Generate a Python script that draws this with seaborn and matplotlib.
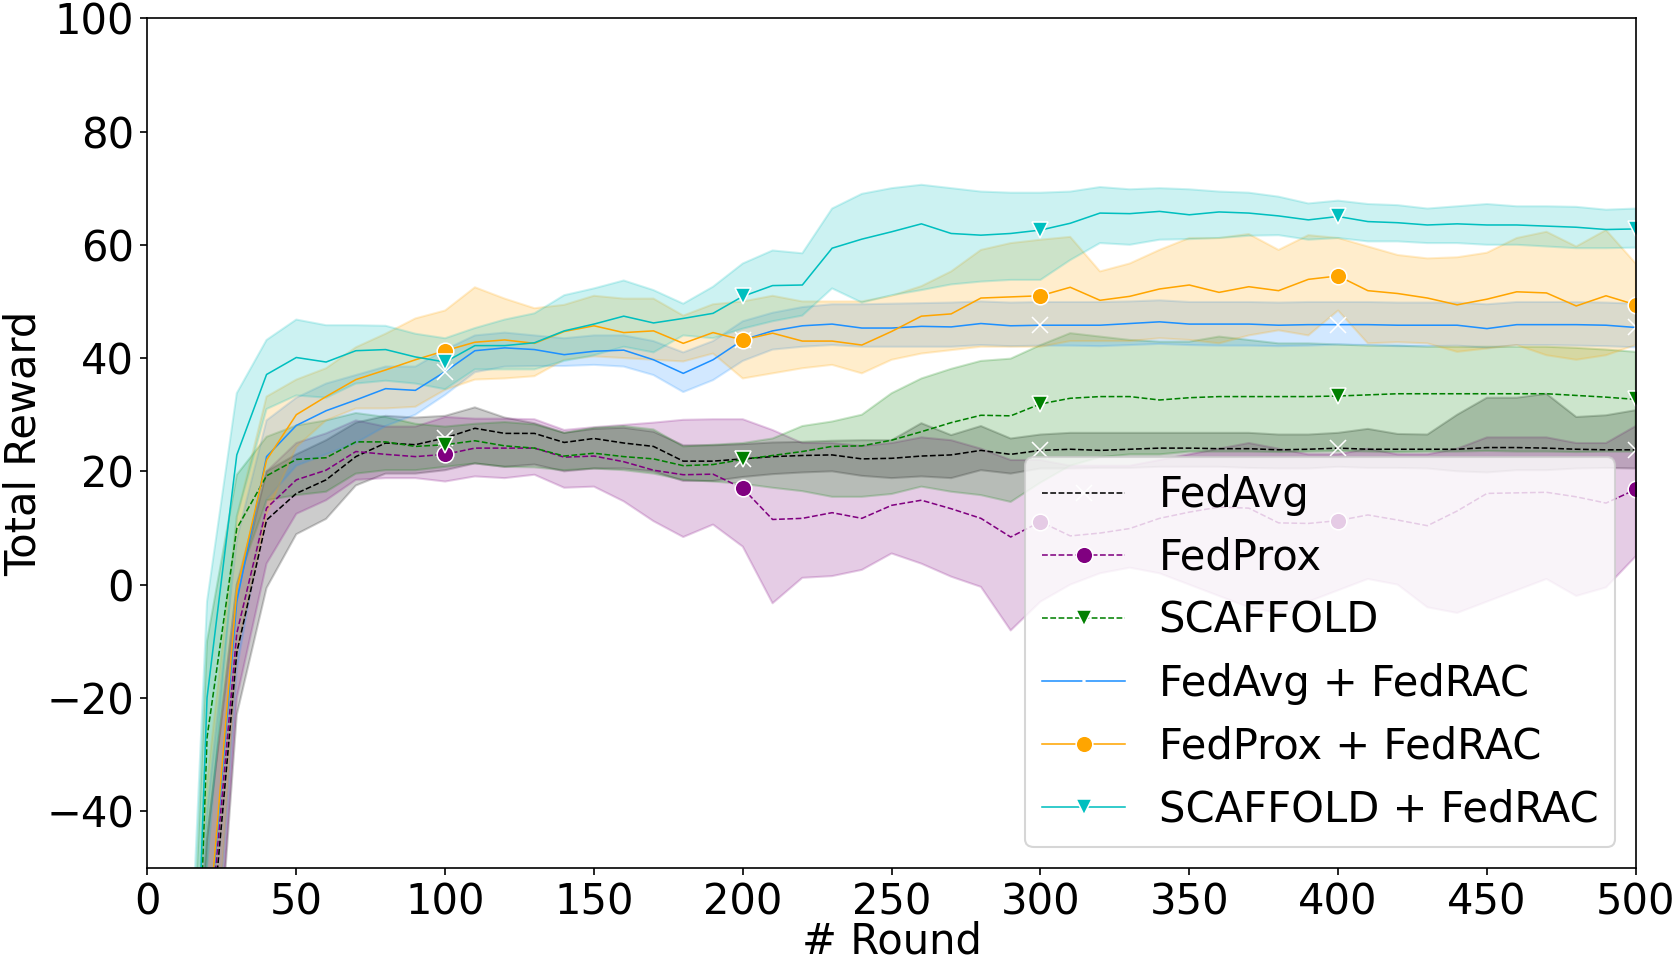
import matplotlib
matplotlib.use("Agg")
import matplotlib.pyplot as plt
import numpy as np
import pandas as pd
import seaborn as sns

rounds = list(range(0, 501, 10))

methods = ["FedAvg", "FedProx", "SCAFFOLD",
           "FedAvg + FedRAC", "FedProx + FedRAC", "SCAFFOLD + FedRAC"]

fedavg_mean = [-200, -150, -71, -12, 11.4, 16.1, 18.5, 22.6, 25.0, 24.7, 25.9, 27.6, 26.7, 26.7, 25.1, 25.8, 25.0,
               24.4, 21.8, 21.8, 22.2, 22.6, 22.8, 22.9, 22.2, 22.3, 22.7, 22.9, 23.7, 23.0, 23.7, 23.9, 23.7, 23.9,
               24.1, 24.1, 24.0, 24.0, 23.8, 23.9, 24.1, 23.9, 23.9, 23.9, 23.9, 24.2, 24.2, 24.1, 23.9, 23.8, 23.8]
fedavg_hi = [-170, -110, -45, -2, 20.0, 23.0, 25.5, 28.6, 29.8, 29.5, 29.8, 31.3, 29.5, 28.5, 26.8, 27.5, 27.7,
             27.0, 24.6, 24.6, 24.8, 25.1, 25.2, 25.4, 25.5, 25.5, 28.5, 26.4, 28.0, 25.8, 26.5, 26.8, 26.8, 26.8,
             26.8, 26.8, 26.8, 26.8, 26.5, 26.5, 26.8, 27.5, 26.6, 26.5, 30.0, 33.0, 33.0, 33.7, 29.6, 29.9, 30.8]
fedavg_lo = [-240, -190, -95, -23, -0.6, 8.9, 11.6, 17.5, 19.6, 19.6, 20.2, 21.4, 20.8, 21.2, 20.0, 20.5, 20.5,
             20.0, 18.3, 18.3, 19.0, 19.5, 19.8, 20.0, 19.2, 18.8, 19.1, 18.8, 20.2, 19.6, 20.5, 20.5, 20.6, 20.6,
             20.8, 20.8, 20.8, 20.6, 20.5, 20.5, 20.8, 20.6, 20.6, 20.5, 20.0, 19.8, 20.2, 20.2, 20.5, 20.6, 20.5]

fedprox_mean = [-200, -150, -67, -8.6, 13.5, 18.5, 20.2, 23.5, 23.0, 22.6, 23.0, 24.1, 24.1, 24.1, 22.5, 22.7, 21.7,
                20.2, 19.4, 19.5, 17.0, 11.5, 11.7, 12.7, 11.7, 14.0, 14.9, 13.4, 11.7, 8.4, 11.1, 8.6, 9.1, 9.9,
                11.7, 12.8, 13.7, 13.5, 10.9, 10.8, 11.3, 12.3, 11.4, 10.4, 13.0, 16.1, 16.2, 16.3, 15.5, 14.4, 16.8]
fedprox_hi = [-170, -110, -45, 0, 20, 25, 26.7, 29, 27.9, 27.9, 29.6, 29.3, 29.3, 29.2, 27.3, 27.8, 28.2,
              28.6, 29.1, 29.2, 29.2, 27.3, 25, 25, 24.5, 25, 26, 25.5, 24, 22, 22, 21, 21, 21,
              22, 23, 24, 25, 24, 23, 23, 24, 23, 23, 24, 26, 26, 26, 25, 25, 28]
fedprox_lo = [-240, -190, -95, -20, 3.7, 12.5, 14.9, 18.5, 18.8, 18.8, 18.2, 19.1, 18.8, 19.4, 17.1, 17.3, 14.7,
              11.2, 8.4, 10.6, 6.7, -3.3, 1.2, 1.5, 2.6, 5.5, 3.7, 1.4, -0.4, -8.1, -3, 0, 2, 3,
              2, 0, -2, -4, -5, -3, -1, 1, 0, -4, -5, -3, -1, 1, -2, -0.5, 5]

scaffold_mean = [-200, -180, -27, 9.9, 19.2, 22.1, 22.4, 25.2, 25.2, 24.4, 24.7, 25.4, 24.5, 24.1, 22.7, 23.2, 22.6,
                 22.2, 21.0, 21.2, 22.1, 22.8, 23.5, 24.4, 24.5, 25.5, 27.0, 28.6, 29.9, 29.8, 31.9, 32.9, 33.2, 33.2,
                 32.6, 33.0, 33.2, 33.2, 33.2, 33.2, 33.3, 33.5, 33.7, 33.7, 33.7, 33.7, 33.7, 33.7, 33.4, 33.1, 32.7]
scaffold_hi = [-160, -130, -10, 19.4, 26.1, 28.1, 29.0, 30.3, 29.6, 28.4, 27.9, 28.4, 28.7, 28.3, 26.8, 27.7, 28.0,
               27.4, 24.4, 24.7, 25.0, 25.8, 28.0, 28.8, 30.0, 33.8, 36.4, 38.1, 39.5, 39.9, 42.3, 44.4, 43.8, 43.2,
               42.9, 42.9, 43.8, 43.2, 42.6, 42.6, 42.4, 42.2, 42.2, 42.0, 42.0, 42.0, 42.0, 42.0, 41.8, 41.5, 41.1]
scaffold_lo = [-240, -230, -45, 0, 14.9, 15.8, 16.4, 19.6, 20.2, 20.2, 20.8, 21.4, 20.8, 20.7, 20.2, 20.5, 20.2,
               19.6, 18.5, 18.2, 17.8, 17.1, 16.5, 15.5, 15.5, 16.0, 17.3, 16.4, 15.8, 14.6, 18.0, 21.0, 22.5, 23.0,
               23.0, 23.5, 23.5, 23.5, 23.4, 23.5, 23.6, 23.5, 23.4, 23.5, 23.5, 23.6, 23.5, 23.5, 23.4, 23.5, 23.5]

fedavg_rac_mean = [-200, -150, -65, -3, 22.6, 28.1, 30.7, 32.6, 34.6, 34.3, 37.6, 41.3, 41.8, 41.5, 40.6, 41.2, 41.4,
                   39.7, 37.3, 39.7, 43.2, 44.8, 45.7, 46.0, 45.3, 45.3, 45.6, 45.5, 46.1, 45.7, 45.8, 45.8, 45.8, 46.1,
                   46.4, 46.0, 46.0, 46.0, 45.8, 45.9, 45.9, 45.9, 45.8, 45.8, 45.8, 45.2, 45.9, 45.9, 45.9, 45.8, 45.4]
fedavg_rac_hi = [-170, -110, -40, 8, 29, 33, 35.5, 37, 38.5, 38.5, 41.5, 44, 44.5, 44, 43.5, 44, 44,
                 43, 41, 43, 46.5, 48, 49, 49.5, 49.5, 49.6, 49.7, 49.8, 50, 49.8, 49.9, 49.9, 49.9, 50.0,
                 50.2, 49.9, 49.9, 49.9, 49.8, 49.9, 49.9, 49.9, 49.8, 49.8, 49.8, 49.5, 49.9, 49.9, 49.9, 49.8, 49.6]
fedavg_rac_lo = [-240, -190, -90, -15, 15, 21, 23, 25, 28, 30, 33.5, 37.5, 38.5, 38.6, 38.6, 38.8, 38.5,
                 37, 34, 36.1, 39.5, 41.5, 42, 42.3, 42, 42, 42, 42, 42.3, 42.1, 42.2, 42.2, 42.1, 42.3,
                 42.5, 42.3, 42.2, 42.2, 42.1, 42.2, 42.4, 42.3, 42.1, 42.1, 42.2, 41.8, 42.3, 42.3, 42.2, 42.1, 41.9]

fedprox_rac_mean = [-200, -150, -64, -1, 22, 30, 33.2, 36.2, 37.9, 39.7, 41.3, 42.8, 43.2, 42.6, 44.7, 45.7, 44.5,
                    44.8, 42.6, 44.5, 43.2, 44.4, 43, 43, 42.3, 44.7, 47.4, 47.8, 50.6, 50.8, 51, 52.5, 50.2, 50.9,
                    52.2, 52.9, 51.6, 52.6, 51.9, 53.9, 54.5, 51.9, 51.4, 50.6, 49.4, 50.4, 51.7, 51.5, 49.2, 51, 49.4]
fedprox_rac_hi = [-160, -110, -35, 12, 33.2, 36.2, 38.2, 41.9, 44.3, 47, 48.4, 52.5, 50.5, 48.8, 49.4, 51, 50.5,
                  50.5, 47.5, 49.5, 50, 51, 50, 50, 50, 51, 52.7, 55.3, 59.1, 60.3, 60.9, 61.4, 55.3, 56.7,
                  59.1, 61.2, 61.2, 61.9, 59.1, 61.7, 61.2, 59.7, 58.2, 57.6, 57.8, 58.6, 61.2, 62.3, 59.7, 62.6, 56.7]
fedprox_rac_lo = [-240, -190, -90, -12, 12.5, 24.3, 29, 31.1, 31.1, 31.4, 34.4, 36.2, 36.4, 36.8, 39.7, 40.3, 40,
                  39.7, 39.4, 40.8, 36.4, 37.3, 38.2, 38.8, 37.3, 39.7, 40.8, 41.4, 42, 42, 42, 43, 43, 43,
                  43.5, 43.2, 42.6, 44, 44.9, 44, 48.4, 42.6, 42.8, 42.6, 41.1, 41.7, 42.3, 40.5, 39.7, 40.5, 42.3]

scaffold_rac_mean = [-200, -170, -20, 22.9, 37.1, 40.1, 39.3, 41.3, 41.5, 40.2, 39.3, 42.2, 42.2, 42.7, 44.8, 46, 47.4,
                     46.2, 47, 47.9, 50.9, 52.8, 52.9, 59.4, 61, 62.3, 63.7, 62, 61.7, 62, 62.6, 63.8, 65.6, 65.5,
                     65.9, 65.3, 65.8, 65.6, 65.1, 64.4, 65, 64.1, 63.9, 63.5, 63.7, 63.5, 63.5, 63.3, 63.1, 62.7, 62.8]
scaffold_rac_hi = [-150, -120, -3, 33.8, 43.2, 46.8, 45.8, 45.8, 45.7, 44.3, 43.5, 45.3, 46.8, 47.9, 51.1, 52.3, 53.7,
                   52, 49.6, 52.6, 56.7, 59, 58.5, 66.4, 69, 70, 70.6, 70, 69.4, 69.2, 69.2, 69.4, 70.2, 69.8,
                   70, 69.8, 69.4, 69.2, 68.5, 67.3, 67.8, 67.2, 67, 66.4, 66.8, 67.2, 66.8, 66.8, 66.7, 66.2, 66.4]
scaffold_rac_lo = [-250, -230, -50, 12, 31, 33.4, 33, 35.5, 36, 35.5, 34.5, 38, 38, 38, 39.5, 40.5, 42,
                   41, 44, 43.5, 45.2, 46.5, 47.5, 52.3, 49.8, 51.1, 52, 53, 53.5, 53.8, 53.8, 57.3, 60.3, 60,
                   60.9, 61, 61.2, 61.6, 61.7, 60.9, 61.2, 60.6, 60.6, 60.3, 60.3, 60, 60, 59.7, 59.4, 59.4, 59.5]

series = {
    "FedAvg": (fedavg_lo, fedavg_mean, fedavg_hi),
    "FedProx": (fedprox_lo, fedprox_mean, fedprox_hi),
    "SCAFFOLD": (scaffold_lo, scaffold_mean, scaffold_hi),
    "FedAvg + FedRAC": (fedavg_rac_lo, fedavg_rac_mean, fedavg_rac_hi),
    "FedProx + FedRAC": (fedprox_rac_lo, fedprox_rac_mean, fedprox_rac_hi),
    "SCAFFOLD + FedRAC": (scaffold_rac_lo, scaffold_rac_mean, scaffold_rac_hi),
}

colors = {"FedAvg": "black", "FedProx": "purple", "SCAFFOLD": "green",
          "FedAvg + FedRAC": "dodgerblue", "FedProx + FedRAC": "orange",
          "SCAFFOLD + FedRAC": "c"}
markers = {"FedAvg": "x", "FedProx": "o", "SCAFFOLD": "v",
           "FedAvg + FedRAC": "x", "FedProx + FedRAC": "o", "SCAFFOLD + FedRAC": "v"}
styles = {"FedAvg": "--", "FedProx": "--", "SCAFFOLD": "--",
          "FedAvg + FedRAC": "-", "FedProx + FedRAC": "-", "SCAFFOLD + FedRAC": "-"}

frames = []
for name in methods:
    lo, mid, hi = series[name]
    for vals in (lo, mid, hi):
        frames.append(pd.DataFrame({"round": rounds, "reward": vals, "method": name}))
df = pd.concat(frames, ignore_index=True)

fig = plt.figure(figsize=(1676 / 150, 961 / 150), dpi=150)
ax = fig.add_axes([0.088, 0.097, 0.888, 0.884])

for name in methods:
    sub = df[df["method"] == name]
    sns.lineplot(data=sub, x="round", y="reward", ax=ax,
                 estimator="median", errorbar=lambda v: (v.min(), v.max()),
                 color=colors[name], linestyle=styles[name], marker=markers[name],
                 markevery=10, markersize=8, linewidth=0.75, label=name)

ax.set_xlim(0, 500)
ax.set_ylim(-50, 100)
ax.set_xticks(list(range(0, 501, 50)))
ax.set_yticks(list(range(-40, 101, 20)))
ax.tick_params(labelsize=20, pad=3)
ax.set_xlabel("# Round", fontsize=20, labelpad=-1.5)
ax.set_ylabel("Total Reward", fontsize=20, labelpad=0.5)
ax.legend(loc="lower right", fontsize=20)

fig.savefig("out.png", dpi=150)
